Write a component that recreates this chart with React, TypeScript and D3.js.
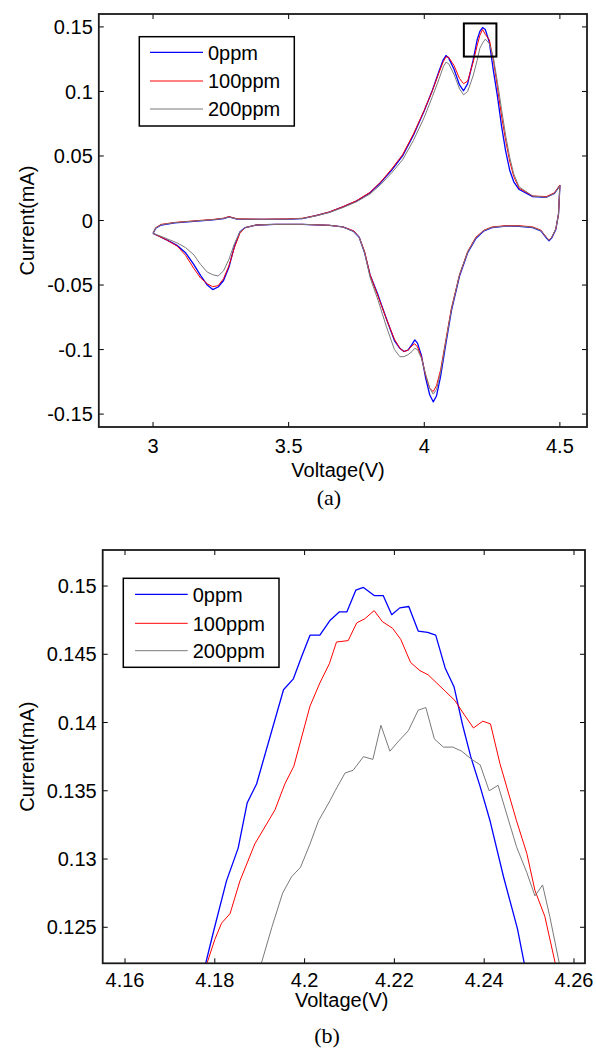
import React from 'react';
import * as d3 from 'd3';

const W = 596;
const H = 1049;
const FONT = '"Liberation Sans", Arial, Helvetica, sans-serif';
const SERIF = '"Liberation Serif", "Times New Roman", Times, serif';

const seriesNames = ['0ppm', '100ppm', '200ppm'];
const seriesColors = ['#0000ff', '#ff0000', '#7a7a7a'];
const seriesWidths = [1.3, 1.0, 1.0];

// ---- Panel (a): full CV loop ----
const anodicVoltage = [3.00, 3.01, 3.03, 3.08, 3.15, 3.22, 3.26, 3.28, 3.31, 3.40, 3.50, 3.55, 3.60, 3.65, 3.70, 3.75, 3.80, 3.84, 3.88, 3.92, 3.96, 4.00, 4.03, 4.055, 4.07, 4.08, 4.09, 4.11, 4.13, 4.145, 4.16, 4.18, 4.195, 4.205, 4.215, 4.225, 4.24, 4.255, 4.27, 4.285, 4.30, 4.315, 4.33, 4.35, 4.40, 4.45, 4.48, 4.50];
const cathodicVoltage = [4.50, 4.495, 4.485, 4.47, 4.46, 4.45, 4.43, 4.40, 4.35, 4.30, 4.25, 4.22, 4.19, 4.16, 4.13, 4.10, 4.08, 4.06, 4.045, 4.033, 4.02, 4.005, 3.99, 3.975, 3.965, 3.955, 3.94, 3.925, 3.91, 3.89, 3.86, 3.83, 3.80, 3.78, 3.76, 3.74, 3.70, 3.65, 3.55, 3.45, 3.38, 3.34, 3.32, 3.30, 3.28, 3.26, 3.24, 3.22, 3.20, 3.175, 3.15, 3.12, 3.09, 3.05, 3.02, 3.00];

const anodic0ppm = [-0.010, -0.006, -0.0035, -0.0018, -0.0006, 0.0005, 0.0015, 0.0028, 0.001, 0.0008, 0.001, 0.0015, 0.0038, 0.0065, 0.0105, 0.0150, 0.0215, 0.0295, 0.039, 0.050, 0.066, 0.085, 0.101, 0.116, 0.1245, 0.1278, 0.126, 0.117, 0.105, 0.1005, 0.106, 0.124, 0.140, 0.1465, 0.1495, 0.148, 0.138, 0.116, 0.096, 0.073, 0.054, 0.039, 0.030, 0.024, 0.0185, 0.018, 0.021, 0.027];
const anodic100ppm = [-0.010, -0.0055, -0.003, -0.0015, -0.0003, 0.0008, 0.0018, 0.003, 0.0013, 0.001, 0.0013, 0.0017, 0.0038, 0.0066, 0.0107, 0.0153, 0.0218, 0.030, 0.040, 0.051, 0.067, 0.0855, 0.1005, 0.115, 0.123, 0.1268, 0.1265, 0.120, 0.110, 0.106, 0.108, 0.1225, 0.1355, 0.1435, 0.148, 0.1442, 0.140, 0.124, 0.103, 0.081, 0.062, 0.046, 0.034, 0.025, 0.019, 0.0185, 0.0215, 0.0275];
const anodic200ppm = [-0.010, -0.0058, -0.0033, -0.0016, -0.0005, 0.0006, 0.0016, 0.0027, 0.0011, 0.0009, 0.0011, 0.0015, 0.0035, 0.0062, 0.0100, 0.0145, 0.0205, 0.028, 0.037, 0.047, 0.062, 0.080, 0.096, 0.110, 0.119, 0.1226, 0.1215, 0.113, 0.102, 0.0974, 0.100, 0.112, 0.124, 0.1335, 0.1375, 0.1405, 0.137, 0.126, 0.107, 0.086, 0.066, 0.049, 0.036, 0.026, 0.019, 0.018, 0.021, 0.027];

const cathodic0ppm = [0.027, 0.005, -0.007, -0.0135, -0.0158, -0.0135, -0.008, -0.0055, -0.0045, -0.0044, -0.0055, -0.008, -0.014, -0.025, -0.043, -0.070, -0.095, -0.121, -0.136, -0.1405, -0.135, -0.122, -0.105, -0.095, -0.0925, -0.096, -0.1005, -0.1015, -0.099, -0.093, -0.076, -0.058, -0.042, -0.025, -0.013, -0.0085, -0.005, -0.0037, -0.003, -0.003, -0.0035, -0.0055, -0.009, -0.020, -0.036, -0.0465, -0.0515, -0.0535, -0.050, -0.0425, -0.034, -0.025, -0.0195, -0.015, -0.012, -0.010];
const cathodic100ppm = [0.0275, 0.005, -0.0065, -0.013, -0.015, -0.013, -0.0075, -0.005, -0.004, -0.004, -0.005, -0.0075, -0.013, -0.024, -0.042, -0.068, -0.092, -0.116, -0.128, -0.1325, -0.130, -0.120, -0.106, -0.098, -0.0955, -0.097, -0.1005, -0.1015, -0.099, -0.092, -0.076, -0.059, -0.042, -0.024, -0.013, -0.008, -0.005, -0.0037, -0.003, -0.003, -0.0035, -0.0055, -0.010, -0.021, -0.035, -0.045, -0.0505, -0.0513, -0.049, -0.0445, -0.037, -0.027, -0.020, -0.015, -0.012, -0.010];
const cathodic200ppm = [0.027, 0.005, -0.0065, -0.013, -0.0155, -0.013, -0.0078, -0.0053, -0.0043, -0.0043, -0.0053, -0.0078, -0.0135, -0.0245, -0.042, -0.069, -0.093, -0.118, -0.131, -0.1345, -0.130, -0.119, -0.107, -0.100, -0.099, -0.1015, -0.104, -0.1055, -0.1055, -0.100, -0.082, -0.062, -0.044, -0.025, -0.013, -0.0085, -0.005, -0.0037, -0.003, -0.003, -0.0035, -0.0055, -0.009, -0.018, -0.030, -0.039, -0.043, -0.042, -0.040, -0.034, -0.0265, -0.021, -0.0175, -0.014, -0.0115, -0.010];

const xTicksA = [3, 3.5, 4, 4.5];
const xTickLabelsA = ['3', '3.5', '4', '4.5'];
const yTicksA = [-0.15, -0.1, -0.05, 0, 0.05, 0.1, 0.15];
const yTickLabelsA = ['-0.15', '-0.1', '-0.05', '0', '0.05', '0.1', '0.15'];
const zoomBoxVoltage = [4.146, 4.266];
const zoomBoxCurrent = [0.127, 0.1527];

// ---- Panel (b): zoom on the main anodic peak ----
const zoomVoltage0ppm = [4.1775, 4.178, 4.1798, 4.1826, 4.1852, 4.1872, 4.1893, 4.1953, 4.1975, 4.1993, 4.2012, 4.2034, 4.2057, 4.2077, 4.2094, 4.2114, 4.2131, 4.2155, 4.2175, 4.2194, 4.2212, 4.2232, 4.2253, 4.2274, 4.2292, 4.2313, 4.2333, 4.2352, 4.237, 4.2391, 4.2413, 4.2443, 4.2474, 4.2489, 4.2495];
const zoomCurrent0ppm = [0.1215, 0.1224, 0.1248, 0.1284, 0.1308, 0.1341, 0.1355, 0.1424, 0.1432, 0.1448, 0.1464, 0.1464, 0.1475, 0.1481, 0.1481, 0.1497, 0.1499, 0.1493, 0.1493, 0.1479, 0.1484, 0.1485, 0.1467, 0.1466, 0.1464, 0.1440, 0.1426, 0.1398, 0.1375, 0.1353, 0.1328, 0.1287, 0.1249, 0.1224, 0.1215];
const zoomVoltage100ppm = [4.178, 4.1783, 4.18, 4.1815, 4.1834, 4.1856, 4.1889, 4.1934, 4.1956, 4.1976, 4.2012, 4.2034, 4.2055, 4.2071, 4.2097, 4.2116, 4.2134, 4.2155, 4.2173, 4.2196, 4.2214, 4.2236, 4.2257, 4.2275, 4.2294, 4.2313, 4.2335, 4.2353, 4.2376, 4.2397, 4.2414, 4.2435, 4.2472, 4.2495, 4.2513, 4.2535, 4.2558, 4.2562];
const zoomCurrent100ppm = [0.1215, 0.1224, 0.1241, 0.1253, 0.1260, 0.1284, 0.1311, 0.1336, 0.1355, 0.1368, 0.1412, 0.1429, 0.1443, 0.1459, 0.1460, 0.1473, 0.1476, 0.1482, 0.1474, 0.1469, 0.1461, 0.1444, 0.1438, 0.1435, 0.1429, 0.1423, 0.1416, 0.1407, 0.1396, 0.1401, 0.1399, 0.1370, 0.1328, 0.1304, 0.1277, 0.1258, 0.1224, 0.1215];
const zoomVoltage200ppm = [4.1902, 4.1904, 4.1927, 4.1951, 4.1971, 4.1991, 4.2012, 4.2031, 4.2057, 4.2068, 4.209, 4.2108, 4.2131, 4.2152, 4.217, 4.219, 4.2211, 4.2231, 4.2253, 4.227, 4.2289, 4.2309, 4.233, 4.235, 4.2372, 4.2391, 4.2411, 4.2431, 4.245, 4.2472, 4.2495, 4.2513, 4.253, 4.2546, 4.2567, 4.2569];
const zoomCurrent200ppm = [0.1215, 0.1224, 0.1250, 0.1275, 0.1287, 0.1294, 0.1311, 0.1328, 0.1343, 0.1350, 0.1363, 0.1365, 0.1375, 0.1373, 0.1398, 0.1379, 0.1387, 0.1394, 0.1409, 0.1411, 0.1388, 0.1382, 0.1382, 0.1379, 0.1373, 0.1369, 0.1350, 0.1354, 0.1333, 0.1309, 0.1290, 0.1273, 0.1281, 0.1258, 0.1224, 0.1215];

const xTicksB = [4.16, 4.18, 4.2, 4.22, 4.24, 4.26];
const xTickLabelsB = ['4.16', '4.18', '4.2', '4.22', '4.24', '4.26'];
const yTicksB = [0.125, 0.13, 0.135, 0.14, 0.145, 0.15];
const yTickLabelsB = ['0.125', '0.13', '0.135', '0.14', '0.145', '0.15'];

type Pt = [number, number];
const zip = (xs: number[], ys: number[]): Pt[] => xs.map((v, i) => [v, ys[i]] as Pt);

const loopA: Pt[][] = [
  [...zip(anodicVoltage, anodic0ppm), ...zip(cathodicVoltage, cathodic0ppm)],
  [...zip(anodicVoltage, anodic100ppm), ...zip(cathodicVoltage, cathodic100ppm)],
  [...zip(anodicVoltage, anodic200ppm), ...zip(cathodicVoltage, cathodic200ppm)],
];
const linesB: Pt[][] = [
  zip(zoomVoltage0ppm, zoomCurrent0ppm),
  zip(zoomVoltage100ppm, zoomCurrent100ppm),
  zip(zoomVoltage200ppm, zoomCurrent200ppm),
];

interface PanelProps {
  id: string;
  box: { left: number; right: number; top: number; bottom: number };
  xDomain: [number, number];
  yDomain: [number, number];
  xTicks: number[];
  xTickLabels: string[];
  yTicks: number[];
  yTickLabels: string[];
  data: Pt[][];
  legend: { x0: number; x1: number; y0: number; y1: number; lx0: number; lx1: number; tx: number; rows: number[] };
  xLabelX: number;
  xLabelY: number;
  xTickBaseline: number;
  yLabelX: number;
  caption: string;
  captionX: number;
  captionY: number;
  zoomBox?: { v: number[]; i: number[] };
}

function Panel(p: PanelProps) {
  const { box } = p;
  const x = d3.scaleLinear().domain(p.xDomain).range([box.left, box.right]);
  const y = d3.scaleLinear().domain(p.yDomain).range([box.bottom, box.top]);
  const line = d3.line<Pt>().x((d) => x(d[0])).y((d) => y(d[1]));
  const tl = 5;
  const fs = 20;
  const clipId = `clip-${p.id}`;
  return (
    <g>
      <defs>
        <clipPath id={clipId}>
          <rect x={box.left} y={box.top} width={box.right - box.left} height={box.bottom - box.top} />
        </clipPath>
      </defs>
      <g clipPath={`url(#${clipId})`}>
        {p.data.map((d, i) => (
          <path key={i} d={line(d) || ''} fill="none" stroke={seriesColors[i]} strokeWidth={seriesWidths[i]} strokeLinejoin="round" />
        ))}
      </g>
      {p.zoomBox && (
        <rect
          x={x(p.zoomBox.v[0])}
          y={y(p.zoomBox.i[1])}
          width={x(p.zoomBox.v[1]) - x(p.zoomBox.v[0])}
          height={y(p.zoomBox.i[0]) - y(p.zoomBox.i[1])}
          fill="none"
          stroke="#000"
          strokeWidth={2}
        />
      )}
      {p.xTicks.map((t, i) => (
        <g key={`xt${i}`}>
          <line x1={x(t)} x2={x(t)} y1={box.bottom} y2={box.bottom - tl} stroke="#000" strokeWidth={1} />
          <line x1={x(t)} x2={x(t)} y1={box.top} y2={box.top + tl} stroke="#000" strokeWidth={1} />
          <text x={x(t)} y={p.xTickBaseline} textAnchor="middle" fontFamily={FONT} fontSize={fs} fill="#000">
            {p.xTickLabels[i]}
          </text>
        </g>
      ))}
      {p.yTicks.map((t, i) => (
        <g key={`yt${i}`}>
          <line x1={box.left} x2={box.left + tl} y1={y(t)} y2={y(t)} stroke="#000" strokeWidth={1} />
          <line x1={box.right} x2={box.right - tl} y1={y(t)} y2={y(t)} stroke="#000" strokeWidth={1} />
          <text x={box.left - 6} y={y(t) + 7.2} textAnchor="end" fontFamily={FONT} fontSize={fs} fill="#000">
            {p.yTickLabels[i]}
          </text>
        </g>
      ))}
      <rect x={box.left} y={box.top} width={box.right - box.left} height={box.bottom - box.top} fill="none" stroke="#1a1a1a" strokeWidth={1.8} />
      <rect x={p.legend.x0} y={p.legend.y0} width={p.legend.x1 - p.legend.x0} height={p.legend.y1 - p.legend.y0} fill="#fff" stroke="#000" strokeWidth={1.5} />
      {seriesNames.map((n, i) => (
        <g key={`lg${i}`}>
          <line x1={p.legend.lx0} x2={p.legend.lx1} y1={p.legend.rows[i]} y2={p.legend.rows[i]} stroke={seriesColors[i]} strokeWidth={seriesWidths[i]} />
          <text x={p.legend.tx} y={p.legend.rows[i] + 7.2} fontFamily={FONT} fontSize={fs} fill="#000">
            {n}
          </text>
        </g>
      ))}
      <text x={p.xLabelX} y={p.xLabelY} textAnchor="middle" fontFamily={FONT} fontSize={fs} fill="#000">
        Voltage(V)
      </text>
      <text
        transform={`translate(${p.yLabelX},${(box.top + box.bottom) / 2}) rotate(-90)`}
        textAnchor="middle"
        fontFamily={FONT}
        fontSize={fs}
        fill="#000"
      >
        Current(mA)
      </text>
      <text x={p.captionX} y={p.captionY} textAnchor="middle" fontFamily={SERIF} fontSize={22} fill="#000">
        {p.caption}
      </text>
    </g>
  );
}

export default function App() {
  return (
    <svg width={W} height={H} viewBox={`0 0 ${W} ${H}`} style={{ position: 'absolute', left: 0, top: 0, background: '#fff' }}>
      <rect x={0} y={0} width={W} height={H} fill="#fff" />
      <Panel
        id="a"
        box={{ left: 98.8, right: 587, top: 14, bottom: 427 }}
        xDomain={[2.8, 4.6]}
        yDomain={[-0.16, 0.16]}
        xTicks={xTicksA}
        xTickLabels={xTickLabelsA}
        yTicks={yTicksA}
        yTickLabels={yTickLabelsA}
        data={loopA}
        legend={{ x0: 139.3, x1: 294.3, y0: 36.7, y1: 126, lx0: 150, lx1: 203, tx: 208, rows: [52.3, 81, 109] }}
        xLabelX={338}
        xLabelY={477}
        xTickBaseline={452.5}
        yLabelX={33.5}
        caption="(a)"
        captionX={329}
        captionY={505}
        zoomBox={{ v: zoomBoxVoltage, i: zoomBoxCurrent }}
      />
      <Panel
        id="b"
        box={{ left: 102.7, right: 585, top: 550, bottom: 963.3 }}
        xDomain={[4.15503, 4.26245]}
        yDomain={[0.12236, 0.15264]}
        xTicks={xTicksB}
        xTickLabels={xTickLabelsB}
        yTicks={yTicksB}
        yTickLabels={yTickLabelsB}
        data={linesB}
        legend={{ x0: 123.3, x1: 279, y0: 578.3, y1: 667.3, lx0: 135, lx1: 187.7, tx: 192.7, rows: [594.3, 623.3, 650.7] }}
        xLabelX={341.7}
        xLabelY={1006.5}
        xTickBaseline={987}
        yLabelX={33.5}
        caption="(b)"
        captionX={327}
        captionY={1043}
      />
    </svg>
  );
}
